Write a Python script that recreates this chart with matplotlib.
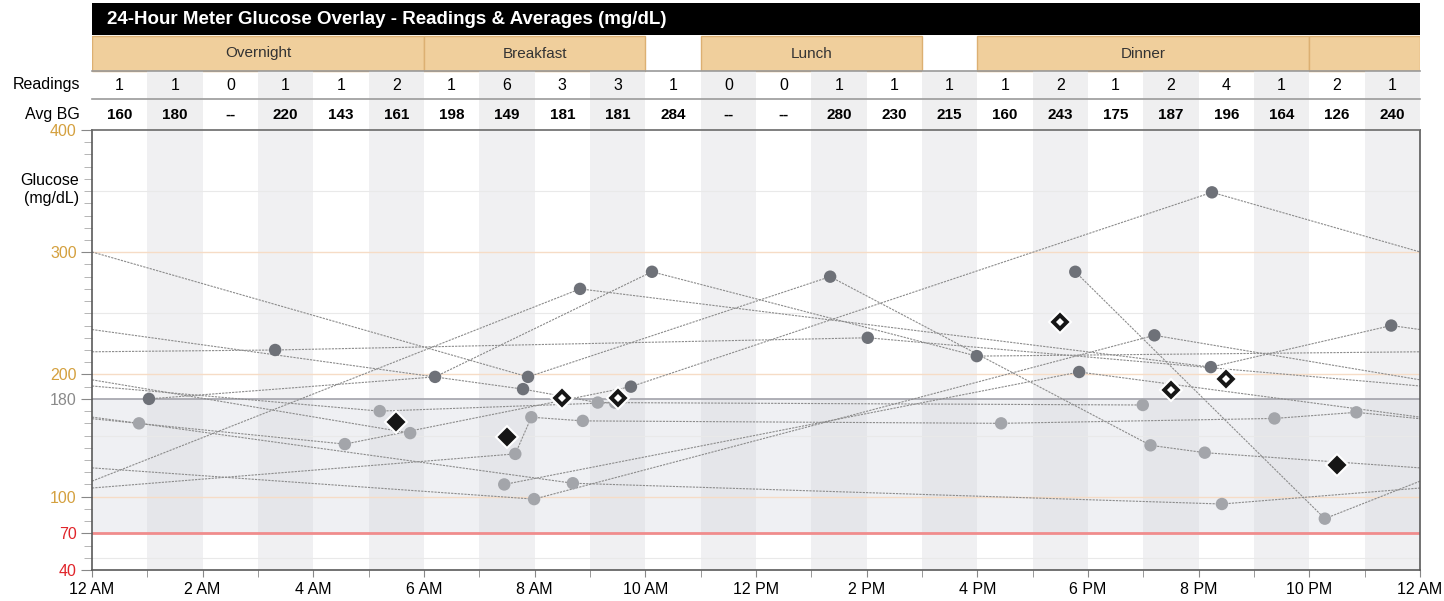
import matplotlib
matplotlib.use("Agg")
import matplotlib.pyplot as plt
from matplotlib.patches import Rectangle

plt.rcParams['font.family'] = ['Liberation Sans', 'DejaVu Sans']

# Data

title = "24-Hour Meter Glucose Overlay - Readings & Averages (mg/dL)"

reading_counts = [1, 1, 0, 1, 1, 2, 1, 6, 3, 3, 1, 0, 0, 1, 1, 1, 1, 2, 1, 2, 4, 1, 2, 1]
avg_bg = [160, 180, None, 220, 143, 161, 198, 149, 181, 181, 284, None,
          None, 280, 230, 215, 160, 243, 175, 187, 196, 164, 126, 240]

meal_names = ["Overnight", "Breakfast", "Lunch", "Dinner", ""]
meal_start = [0, 6, 11, 16, 22]
meal_end = [6, 10, 15, 22, 24]

x_tick_labels = ["12 AM", "2 AM", "4 AM", "6 AM", "8 AM", "10 AM", "12 PM",
                 "2 PM", "4 PM", "6 PM", "8 PM", "10 PM", "12 AM"]

# meter readings, one list per day in time order: (hour of day, mg/dL)
# readings more than 24 h apart are not joined
days = [
    [(1.03, 180), (6.20, 198), (10.12, 284), (15.99, 215)],
    [(3.31, 220), (14.02, 230)],
    [(5.20, 170), (9.45, 177)],
    [],
    [(7.45, 110), (17.84, 202)],
    [(0.85, 160), (8.69, 111), (20.42, 94)],
    [(7.65, 135), (7.94, 165), (8.87, 162), (16.43, 160), (21.37, 164), (22.85, 169)],
    [(4.57, 143), (9.74, 190), (20.24, 349)],
    [(7.88, 198), (13.34, 280), (19.13, 142), (20.11, 136)],
    [(7.99, 98), (19.20, 232)],
    [(5.75, 152)],
    [],
    [(17.77, 284), (22.28, 82)],
    [(8.82, 270), (20.22, 206), (23.48, 240)],
    [(7.79, 188), (9.14, 177), (18.99, 175)],
]

HIGH = 180
LOW = 70

# Figure layout (pixel based)

W, H = 1444, 601
X0, X1 = 92, 1420
fig = plt.figure(figsize=(W / 100, H / 100), dpi=100)
ax = fig.add_axes([X0 / W, (H - 570) / H, (X1 - X0) / W, 440 / H])
hax = fig.add_axes([X0 / W, (H - 130) / H, (X1 - X0) / W, 130 / H])

# HEADER TABLE

hax.set_xlim(0, 24)
hax.set_ylim(130, 0)
hax.axis("off")

hax.add_patch(Rectangle((0, 3), 24, 32, facecolor="black", lw=0))
hax.text(0.27, 19.5, title, color="white", fontweight="bold", fontsize=13.5,
         va="center", ha="left")

for name, s, e in zip(meal_names, meal_start, meal_end):
    hax.add_patch(Rectangle((s, 36), e - s, 35, facecolor="#f0cf9c",
                            edgecolor="#dcb072", lw=1))
    hax.text((s + e) / 2, 53.5, name, ha="center", va="center",
             fontsize=11, color="#333333")

for h in range(24):
    if h % 2 == 1:
        hax.add_patch(Rectangle((h, 71), 1, 59, facecolor="#efeff0", lw=0))
    hax.text(h + 0.5, 85, str(reading_counts[h]), ha="center", va="center",
             fontsize=11.5, color="black")
    label = "--" if avg_bg[h] is None else str(avg_bg[h])
    hax.text(h + 0.5, 115, label, ha="center", va="center",
             fontsize=11, fontweight="bold", color="black")

for yy, col in [(71, "#9a9a9a"), (99, "#9a9a9a"), (130, "#6a6a6a")]:
    hax.plot([0, 24], [yy, yy], color=col, lw=1.2, clip_on=False)

hax.text(-0.22, 85, "Readings", ha="right", va="center", fontsize=11.5)
hax.text(-0.22, 115, "Avg BG", ha="right", va="center", fontsize=11.5)

# PLOT BACKGROUND

ax.set_xlim(0, 24)
ax.set_ylim(40, 400)

for h in range(24):
    if h % 2 == 1:
        ax.axvspan(h, h + 1, facecolor="#f0f0f2", lw=0, zorder=0)
    band_col = "#e5e6ea" if h % 2 == 1 else "#eff0f3"
    ax.add_patch(Rectangle((h, LOW), 1, HIGH - LOW, facecolor=band_col,
                           lw=0, zorder=0.5))

for yy in [50, 150, 250, 350]:
    ax.axhline(yy, color="#e9e9e9", lw=0.8, zorder=1)
for yy in [100, 200, 300]:
    ax.axhline(yy, color="#f6dcc6", lw=1, zorder=1)
ax.axhline(HIGH, color="#a2a2aa", lw=1.2, zorder=1)
ax.axhline(LOW, color="#f08c8c", lw=2, zorder=1)

# READINGS: lines in time order, wrapping at midnight

flat = []
for d, day in enumerate(days):
    for h, v in day:
        flat.append((d * 24 + h, v))

line_style = dict(color="#8c8c8c", lw=0.8, ls=(0, (2, 1)), zorder=2)
for (t1, v1), (t2, v2) in zip(flat[:-1], flat[1:]):
    if t2 - t1 >= 24:
        continue
    d1, d2 = int(t1 // 24), int(t2 // 24)
    h1, h2 = t1 - d1 * 24, t2 - d2 * 24
    if d1 == d2:
        ax.plot([h1, h2], [v1, v2], **line_style)
    else:
        tm = (d1 + 1) * 24
        vm = v1 + (v2 - v1) * (tm - t1) / (t2 - t1)
        ax.plot([h1, 24], [v1, vm], **line_style)
        ax.plot([0, h2], [vm, v2], **line_style)

hs = [t % 24 for t, v in flat]
vs = [v for t, v in flat]
cols = ["#6e7178" if v >= HIGH else "#a3a5aa" for v in vs]
ax.scatter(hs, vs, s=80, c=cols, lw=0, zorder=3)

# hourly averages (hours with two or more readings)

for h in range(24):
    if reading_counts[h] >= 2 and avg_bg[h] is not None:
        ax.plot(h + 0.5, avg_bg[h], marker="D", ms=11, color="#161616",
                mec="white", mew=1.5, zorder=4)
        if avg_bg[h] >= HIGH:
            ax.plot(h + 0.5, avg_bg[h], marker="D", ms=4, color="white",
                    mew=0, zorder=5)

# AXES

ax.set_xticks(range(0, 25, 2))
ax.set_xticklabels(x_tick_labels, fontsize=11.5)
ax.set_xticks(range(1, 24, 2), minor=True)
ax.tick_params(axis="x", which="both", length=5, color="#888888", pad=4)

ax.set_yticks([40, 70, 100, 180, 200, 300, 400])
ax.set_yticklabels(["40", "70", "100", "180", "200", "300", "400"], fontsize=11.5)
ax.set_yticks(range(40, 401, 10), minor=True)
ax.tick_params(axis="y", which="major", length=8, color="#888888", pad=3)
ax.tick_params(axis="y", which="minor", length=6, color="#aaaaaa")
tick_cols = ["#e0242a", "#e0242a", "#d4a03e", "#8a8a8a", "#d4a03e", "#d4a03e", "#d4a03e"]
for lab, c in zip(ax.get_yticklabels(), tick_cols):
    lab.set_color(c)

for side in ["left", "bottom", "right"]:
    ax.spines[side].set_color("#5a5a5a")
    ax.spines[side].set_linewidth(1.2)
ax.spines["top"].set_visible(False)

fig.text(79 / W, 1 - 190 / H, "Glucose\n(mg/dL)", ha="right", va="center",
         fontsize=11.5, linespacing=1.25)

fig.savefig("out.png", dpi=100)
